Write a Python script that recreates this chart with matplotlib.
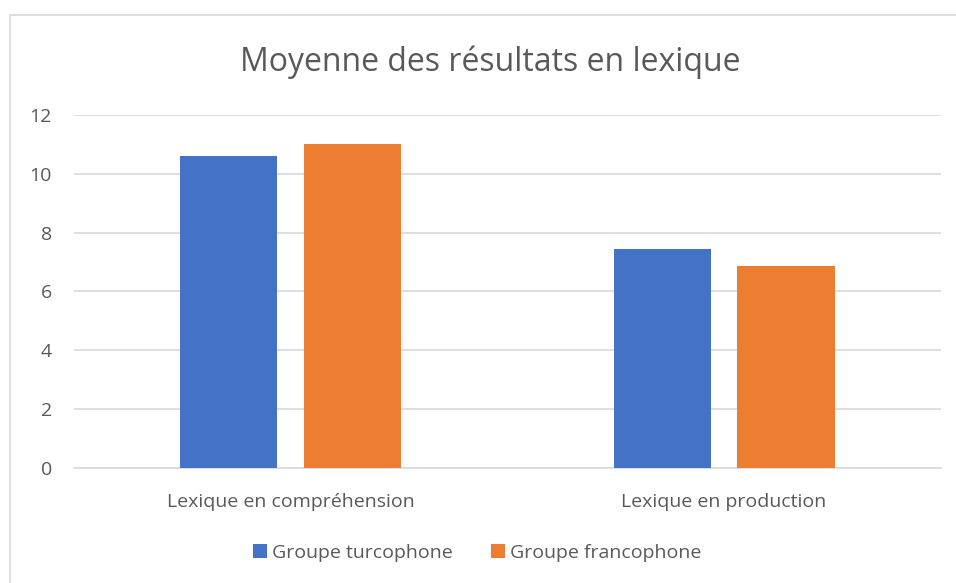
import numpy as np
import matplotlib
matplotlib.use('Agg')
import matplotlib.pyplot as plt
from matplotlib.patches import Rectangle

# Data
categories = ['Lexique en compréhension', 'Lexique en production']
turcophone = [10.6, 7.45]
francophone = [11.02, 6.85]
series_names = ['Groupe turcophone', 'Groupe francophone']
y_ticks = [0, 2, 4, 6, 8, 10, 12]

blue = '#4472C4'
orange = '#ED7D31'
text_col = '#595959'
grid_col = '#D9D9D9'

plt.rcParams['font.family'] = ['Open Sans', 'DejaVu Sans']

fig = plt.figure(figsize=(9.56, 5.83), dpi=100)
ax = fig.add_axes([0.0774, 0.198, 0.9066, 0.6045])

# outer chart frame
fig.patches.append(Rectangle((10 / 956, -0.01), 1.0, 1 - 15 / 583 + 0.01,
                             transform=fig.transFigure, fill=False,
                             edgecolor=grid_col, linewidth=1.2))

x = np.arange(len(categories))
w = 0.224
off = 0.143
ax.bar(x - off, turcophone, w, color=blue, label=series_names[0], zorder=3)
ax.bar(x + off, francophone, w, color=orange, label=series_names[1], zorder=3)

ax.set_xlim(-0.5, len(categories) - 0.5)
ax.set_ylim(0, 12)
ax.set_yticks(y_ticks)
ax.set_xticks(x)
ax.set_xticklabels(categories, fontsize=14.5)
ax.yaxis.grid(True, color=grid_col, linewidth=1.2, zorder=0)
ax.set_axisbelow(True)
for s in ['top', 'right', 'left']:
    ax.spines[s].set_visible(False)
ax.spines['bottom'].set_color(grid_col)
ax.spines['bottom'].set_linewidth(1.2)
ax.tick_params(axis='both', length=0, labelsize=14, colors=text_col)
ax.tick_params(axis='y', pad=16)
ax.tick_params(axis='x', pad=18)

fig.text(0.513, 1 - 62 / 583, 'Moyenne des résultats en lexique', ha='center', va='center',
         fontsize=23, color=text_col)

fig.legend(loc='center', bbox_to_anchor=(0.499, 1 - 553 / 583), ncol=2, frameon=False,
           fontsize=14, labelcolor=text_col, handlelength=0.7, handleheight=0.7,
           handletextpad=0.25, columnspacing=2.0)

fig.savefig('out.png', dpi=100)
